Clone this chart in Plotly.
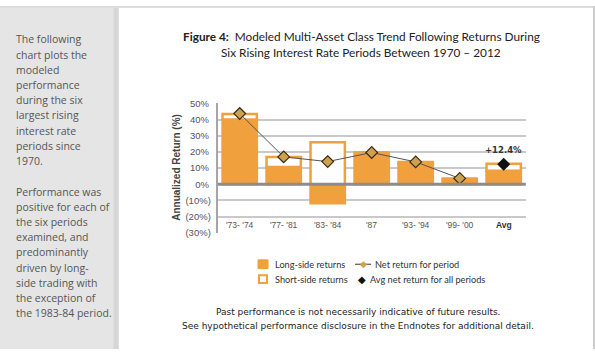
import plotly.graph_objects as go

# ---- data ----
categories = ["'73- '74", "'77- '81", "'83- '84", "'87", "'93- '94", "'99- '00", "Avg"]
long_side = [40.0, 10.7, -11.8, 19.6, 12.5, 3.4, 8.3]
short_side = [3.5, 6.1, 26.0, 0.0, 1.2, 0.0, 4.4]
net_periods = ["'73- '74", "'77- '81", "'83- '84", "'87", "'93- '94", "'99- '00"]
net_return = [43.7, 16.9, 14.0, 19.6, 13.8, 3.6]
avg_net = 12.4
y_ticks = [-30, -20, -10, 0, 10, 20, 30, 40, 50]
y_ticktext = ["(30%)", "(20%)", "(10%)", "0%\u2009", "10%\u2009", "20%\u2009",
              "30%\u2009", "40%\u2009", "50%\u2009"]

title_bold = "Figure 4:"
title_line1 = "Modeled Multi-Asset Class Trend Following Returns During"
title_line2 = "Six Rising Interest Rate Periods Between 1970 \u2013 2012"
side_lines = ["The following", "chart plots the", "modeled", "performance", "during the six",
              "largest rising", "interest rate", "periods since", "1970.", "",
              "Performance was", "positive for each of", "the six periods", "examined, and",
              "predominantly", "driven by long-", "side trading with", "the exception of",
              "the 1983-84 period."]
footer_lines = ["Past performance is not necessarily indicative of future results.",
                "See hypothetical performance disclosure in the Endnotes for additional detail."]
legend_labels = ["Long-side returns", "Short-side returns", "Net return for period",
                 "Avg net return for all periods"]

ORANGE = "#F0A03C"
W, H = 595, 354

def px_x(p):
    return p / W

def px_y(p):
    return 1 - p / H

fig = go.Figure()

fig.add_trace(go.Bar(x=categories, y=long_side, marker=dict(color=ORANGE, line=dict(color=ORANGE, width=2.5)),
                     width=0.78, name=legend_labels[0], showlegend=False))
fig.add_trace(go.Bar(x=categories, y=short_side, marker=dict(color="white", line=dict(color=ORANGE, width=2.5)),
                     width=0.78, name=legend_labels[1], showlegend=False))
fig.add_trace(go.Scatter(x=net_periods, y=net_return, mode="lines+markers",
                         line=dict(color="#555555", width=1),
                         marker=dict(symbol="diamond", size=9, color="#CDA24F",
                                     line=dict(color="#3b2a12", width=1.2)),
                         name=legend_labels[2], showlegend=False))
fig.add_trace(go.Scatter(x=[categories[-1]], y=[avg_net], mode="markers",
                         marker=dict(symbol="diamond", size=10, color="#111111"),
                         name=legend_labels[3], showlegend=False))

shapes = []
# left gray panel
shapes.append(dict(type="rect", xref="paper", yref="paper", x0=0, x1=px_x(119), y0=0, y1=1,
                   fillcolor="#e5e5e5", line=dict(width=0), layer="below"))
shapes.append(dict(type="line", xref="paper", yref="paper", x0=px_x(116), x1=px_x(116), y0=0, y1=1,
                   line=dict(color="#d6d6d6", width=5), layer="below"))
# top and right frame
shapes.append(dict(type="line", xref="paper", yref="paper", x0=0, x1=1, y0=px_y(1), y1=px_y(1),
                   line=dict(color="#dddddd", width=2), layer="below"))
shapes.append(dict(type="line", xref="paper", yref="paper", x0=px_x(594), x1=px_x(594), y0=0, y1=1,
                   line=dict(color="#cccccc", width=2), layer="below"))
# zero line drawn over the bars
shapes.append(dict(type="line", xref="x domain", yref="y", x0=0, x1=1, y0=0, y1=0,
                   line=dict(color="#8c8c8c", width=3), layer="above"))

# legend swatches
shapes.append(dict(type="rect", xref="paper", yref="paper", x0=px_x(258), x1=px_x(268),
                   y0=px_y(271), y1=px_y(262), fillcolor=ORANGE, line=dict(color=ORANGE, width=1)))
shapes.append(dict(type="rect", xref="paper", yref="paper", x0=px_x(259), x1=px_x(267),
                   y0=px_y(286), y1=px_y(278), fillcolor="white", line=dict(color=ORANGE, width=2)))
shapes.append(dict(type="line", xref="paper", yref="paper", x0=px_x(355), x1=px_x(371),
                   y0=px_y(266.5), y1=px_y(266.5), line=dict(color="#333333", width=1)))

annotations = []
# side panel text
for i, line in enumerate(side_lines):
    if line:
        annotations.append(dict(xref="paper", yref="paper", x=px_x(14), y=px_y(34.5 + i * 15.7),
                                xanchor="left", yanchor="middle", text=line, showarrow=False,
                                font=dict(family="Open Sans", size=10.5, color="#555555")))
# title
annotations.append(dict(xref="paper", yref="paper", x=px_x(361), y=px_y(31), xanchor="center",
                        yanchor="middle", showarrow=False,
                        text="<b>" + title_bold + "</b>\u2002" + title_line1,
                        font=dict(family="Lato", size=11.8, color="#222222")))
annotations.append(dict(xref="paper", yref="paper", x=px_x(361), y=px_y(48), xanchor="center",
                        yanchor="middle", showarrow=False, text=title_line2,
                        font=dict(family="Lato", size=11.8, color="#222222")))
# y axis title
annotations.append(dict(xref="paper", yref="paper", x=px_x(177), y=px_y(167), textangle=-90,
                        xanchor="center", yanchor="middle", showarrow=False,
                        text="<b>Annualized Return (%)</b>",
                        font=dict(family="Liberation Sans", size=10, color="#444444")))
# category labels inside plot
for c in categories:
    annotations.append(dict(xref="x", yref="y", x=c, y=-25, showarrow=False, yanchor="middle",
                            text=("<b>" + c + "</b>") if c == "Avg" else c,
                            font=dict(family="Liberation Sans", size=8.5,
                                      color="#333333" if c == "Avg" else "#555555")))
# avg label
annotations.append(dict(xref="x", yref="y", x=categories[-1], y=avg_net, yshift=14, showarrow=False,
                        text=f"<b>+{avg_net:.1f}%</b>",
                        font=dict(family="DejaVu Sans", size=8.5, color="#333333")))
# legend texts
leg_pos = [(273, 266.5), (273, 282), (373, 266.5), (368, 282)]
for lab, (lx, ly) in zip(legend_labels, leg_pos):
    annotations.append(dict(xref="paper", yref="paper", x=px_x(lx), y=px_y(ly), xanchor="left",
                            yanchor="middle", showarrow=False, text=lab,
                            font=dict(family="Lato", size=9.2, color="#333333")))
# legend markers as text glyphs
annotations.append(dict(xref="paper", yref="paper", x=px_x(363), y=px_y(266.5), xanchor="center",
                        yanchor="middle", showarrow=False, text="\u25C6",
                        font=dict(family="DejaVu Sans", size=9, color="#CDA24F")))
annotations.append(dict(xref="paper", yref="paper", x=px_x(362.5), y=px_y(282), xanchor="center",
                        yanchor="middle", showarrow=False, text="\u25C6",
                        font=dict(family="DejaVu Sans", size=10, color="#111111")))
# footer
for i, line in enumerate(footer_lines):
    annotations.append(dict(xref="paper", yref="paper", x=px_x(358), y=px_y(316 + i * 14.5),
                            xanchor="center", yanchor="middle", showarrow=False, text=line,
                            font=dict(family="DejaVu Sans", size=9, color="#222222")))

fig.update_layout(
    width=W, height=H, margin=dict(l=0, r=0, t=0, b=0),
    paper_bgcolor="white", plot_bgcolor="white",
    barmode="relative", bargap=0.2, showlegend=False,
    shapes=shapes, annotations=annotations,
    xaxis=dict(domain=[px_x(217.7), px_x(525.7)], range=[-0.5, 6.5], showticklabels=False,
               showgrid=False, zeroline=False, showline=False, ticks=""),
    yaxis=dict(domain=[px_y(234), px_y(100.5)], range=[-30, 50], tickvals=y_ticks, ticktext=y_ticktext,
               showgrid=True, gridcolor="#c9c9c9", gridwidth=1.5,
               zeroline=False,
               showline=True, linecolor="#a5a5a5", linewidth=2, ticks="", ticklabelstandoff=3,
               tickfont=dict(family="Liberation Sans", size=9.5, color="#555555")),
)

fig.write_html("out.html")
